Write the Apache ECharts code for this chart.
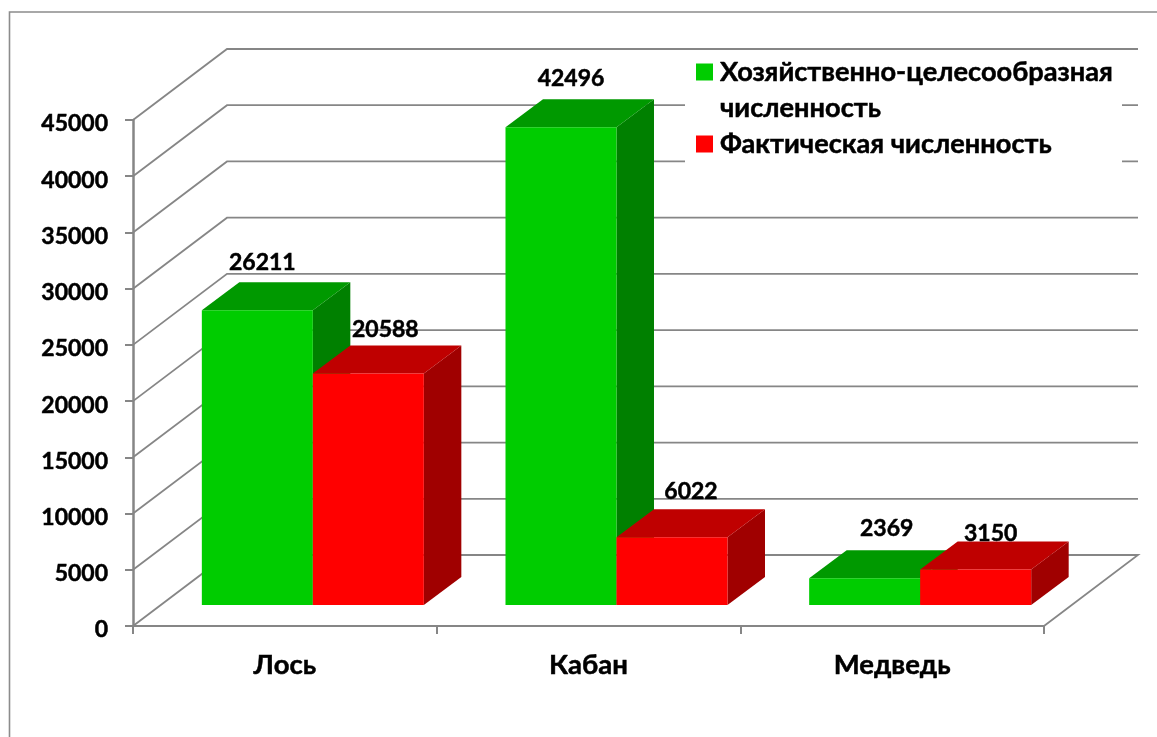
<!DOCTYPE html>
<html><head><meta charset="utf-8">
<style>html,body{margin:0;padding:0;background:#fff}#c{width:1157px;height:737px}</style>
<script src="https://cdn.jsdelivr.net/npm/echarts@6/dist/echarts.min.js"></script>
</head><body><div id="c"></div>
<script>
const categories = ['Лось', 'Кабан', 'Медведь'];
const targetName = 'Хозяйственно-целесообразная\nчисленность';
const actualName = 'Фактическая численность';
const targetValues = [26211, 42496, 2369];
const actualValues = [20588, 6022, 3150];
const wallTicks = [0, 5000, 10000, 15000, 20000, 25000, 30000, 35000, 40000, 45000];

// layout of the pseudo-3D look (pixels)
const FONT = 'Lato, Carlito, "Open Sans", sans-serif';
const WALL = [94, -71];
const BAR_BASE = [28, -21];
const BAR_DEPTH = [37.5, -28];
const BAR_W = 111;
const GRID_C = '#868686';
const targetNudge = [[5, -48], [10, -49], [22, -50]];
const actualNudge = [[17, -44], [19, -46], [15, -36]];

function wallItem(params, api) {
  const v = api.value(0);
  const band = api.size([1, 0])[0];
  const y = api.coord([0, v])[1];
  const l = api.coord([0, v])[0] - band / 2;
  const r = api.coord([2, v])[0] + band / 2;
  const pts = [[l, y], [l + WALL[0], y + WALL[1]], [r + WALL[0], y + WALL[1]]];
  if (v === 0) pts.push([r, y]);
  return { type: 'polyline', shape: { points: pts }, style: { stroke: GRID_C, lineWidth: 1.8, fill: 'none' }, silent: true };
}

function barRenderer(side, colors, nudge) {
  return function (params, api) {
    const i = api.value(0), v = api.value(1);
    const base = api.coord([i, 0]), top = api.coord([i, v]);
    const x0 = base[0] + BAR_BASE[0] + (side < 0 ? -BAR_W : 0), x1 = x0 + BAR_W;
    const yb = base[1] + BAR_BASE[1], yt = top[1] + BAR_BASE[1];
    const dx = BAR_DEPTH[0], dy = BAR_DEPTH[1];
    const n = nudge[params.dataIndex];
    return { type: 'group', children: [
      { type: 'polygon', shape: { points: [[x1, yb], [x1 + dx, yb + dy], [x1 + dx, yt + dy], [x1, yt]] }, style: { fill: colors[2] } },
      { type: 'polygon', shape: { points: [[x0, yt], [x1, yt], [x1 + dx, yt + dy], [x0 + dx, yt + dy]] }, style: { fill: colors[1] } },
      { type: 'rect', shape: { x: x0, y: yt, width: BAR_W, height: yb - yt }, style: { fill: colors[0] } },
      { type: 'text', x: (x0 + x1) / 2 + n[0], y: yt + n[1], style: { text: String(v), fill: '#000', stroke: '#000', lineWidth: 0.5, font: 'bold 23px ' + FONT, align: 'center', verticalAlign: 'middle' } }
    ] };
  };
}

const chart = echarts.init(document.getElementById('c'), null, { renderer: 'canvas' });
chart.setOption({
  animation: false,
  backgroundColor: '#fff',
  textStyle: { fontFamily: FONT },
  grid: { left: 133, right: 113, top: 120, bottom: 111 },
  xAxis: { type: 'category', data: categories,
    axisLine: { lineStyle: { color: GRID_C, width: 2 } },
    axisTick: { show: true, alignWithLabel: false, length: 8, lineStyle: { color: GRID_C, width: 2 } },
    axisLabel: { color: '#000', fontFamily: FONT, fontWeight: 'bold', fontSize: 27.5, margin: 25, textBorderColor: '#000', textBorderWidth: 0.5 },
    splitLine: { show: false } },
  yAxis: { type: 'value', min: 0, max: 45000, interval: 5000,
    axisLine: { show: true, lineStyle: { color: GRID_C, width: 2.5 } },
    axisTick: { show: true, length: 8, lineStyle: { color: GRID_C, width: 2 } },
    axisLabel: { color: '#000', fontFamily: FONT, fontWeight: 'bold', fontSize: 23, margin: 25, verticalAlign: 'top', lineHeight: 8, formatter: v => String(v), textBorderColor: '#000', textBorderWidth: 0.5 },
    splitLine: { show: false } },
  legend: { show: true, left: 696, top: 18, orient: 'vertical', itemWidth: 17, itemHeight: 17, itemGap: 0, itemStyle: { borderWidth: 0 },
    selectedMode: false, padding: 0,
    data: [{ name: targetName, icon: 'rect' }, { name: actualName, icon: 'rect' }],
    formatter: n => n.indexOf('\n') >= 0 ? '\n' + n : n,
    textStyle: { color: '#000', fontFamily: FONT, fontWeight: 'bold', fontSize: 27.2, lineHeight: 36, padding: [0, 0, 0, 2], textBorderColor: '#000', textBorderWidth: 0.5 } },
  graphic: { elements: [
    { type: 'polyline', z: 0, silent: true, shape: { points: [[9.5, 737], [9.5, 12], [1157, 12]] }, style: { stroke: '#8c8c8c', lineWidth: 1.6, fill: 'none' } },
    { type: 'rect', z: 3, silent: true, shape: { x: 685, y: 56, width: 437, height: 150 }, style: { fill: '#fff' } }
  ] },
  series: [
    { type: 'custom', name: 'wall', coordinateSystem: 'cartesian2d', z: 1, silent: true, renderItem: wallItem,
      data: wallTicks.map(v => [v]), encode: { y: 0 } },
    { type: 'custom', name: targetName, z: 5, renderItem: barRenderer(-1, ['#00CC00', '#009900', '#008000'], targetNudge),
      itemStyle: { color: '#00CC00' }, data: targetValues.map((v, i) => [i, v]), encode: { x: 0, y: 1 } },
    { type: 'custom', name: actualName, z: 6, renderItem: barRenderer(1, ['#FF0000', '#BF0000', '#A00000'], actualNudge),
      itemStyle: { color: '#FF0000' }, data: actualValues.map((v, i) => [i, v]), encode: { x: 0, y: 1 } }
  ]
});
</script></body></html>
